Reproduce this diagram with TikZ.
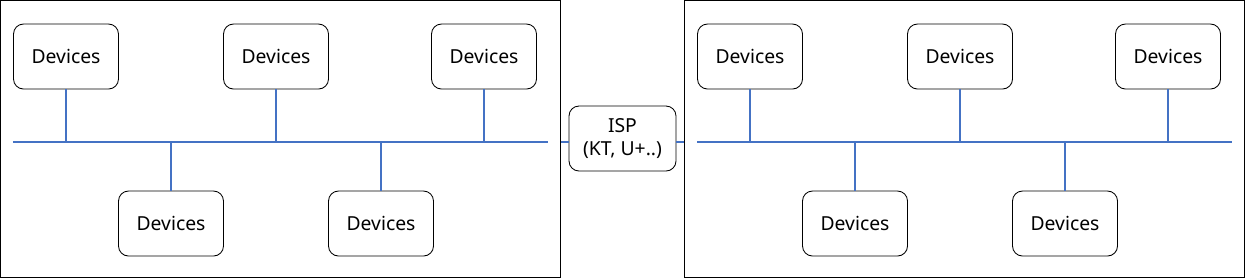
\documentclass[tikz,border=0pt]{standalone}
\usepackage{fontspec}
\setmainfont{Noto Sans}
\usepackage{tikz}
\usetikzlibrary{calc}
\definecolor{busblue}{HTML}{4472C4}

\begin{document}
\begin{tikzpicture}[
  font={\fontsize{11}{13}\selectfont},
  zone/.style={draw, line width=0.6pt, minimum width=11.2cm, minimum height=5.54cm, inner sep=0pt},
  dev/.style={draw, line width=0.5pt, minimum width=2.1cm, minimum height=1.3cm,
    align=center, rounded corners=0.2cm, inner sep=1pt},
  bus/.style={draw=busblue, line width=0.6pt},
]
  \useasboundingbox (0,0) rectangle (24.9,-5.56);

  \foreach \s/\dx in {L/0, R/13.68} {
    \node[zone] (zone\s) at (5.61+\dx,-2.78) {};
    \coordinate (busw\s) at (0.26+\dx,-2.84);
    \coordinate (buse\s) at (10.96+\dx,-2.84);
    \draw[bus] (busw\s) -- (buse\s);
    \foreach \n/\x/\y in {1/1.32/-1.13, 2/5.52/-1.13, 3/9.68/-1.13, 4/3.42/-4.47, 5/7.62/-4.47} {
      \node[dev] (dev\s\n) at (\x+\dx,\y) {Devices};
      \draw[bus] (dev\s\n) -- (dev\s\n |- busw\s);
    }
  }

  \node[dev, minimum width=2.14cm] (isp) at (12.45,-2.77) {ISP\\(KT, U+..)};
  \draw[bus] (zoneL.east |- buswL) -- (isp.west |- buswL);
  \draw[bus] (isp.east |- buswR) -- (zoneR.west |- buswR);
\end{tikzpicture}
\end{document}
